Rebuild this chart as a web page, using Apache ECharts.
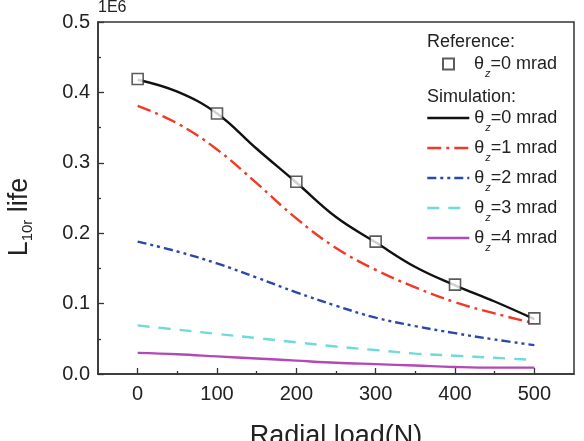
<!DOCTYPE html>
<html><head><meta charset="utf-8">
<script src="https://cdn.jsdelivr.net/npm/echarts@6/dist/echarts.min.js"></script>
<style>html,body{margin:0;padding:0;background:#fff}#c{width:584px;height:441px}</style>
</head><body><div id="c"></div>
<script>
const loads = [0,50,100,150,200,250,300,350,400,450,500];
const refLoads = [0,100,200,300,400,500];
const refLife = [0.419,0.370,0.273,0.188,0.127,0.079];
const sim0 = [0.418,0.401,0.370,0.320,0.272,0.223,0.187,0.152,0.126,0.103,0.078];
const sim1 = [0.381,0.356,0.319,0.271,0.221,0.179,0.148,0.123,0.102,0.086,0.072];
const sim2 = [0.188,0.174,0.157,0.137,0.116,0.097,0.080,0.068,0.058,0.049,0.041];
const sim3 = [0.069,0.063,0.057,0.051,0.045,0.039,0.034,0.029,0.026,0.023,0.020];
const sim4 = [0.030,0.028,0.025,0.022,0.019,0.016,0.014,0.012,0.010,0.009,0.009];
const xTicks = [0,100,200,300,400,500];
const xMinorTicks = [50,150,250,350,450];
const simAngles = ['0','1','2','3','4'];

const FONT = 'Liberation Sans, Arial, sans-serif';
const pair = (xs, ys) => xs.map((x,i)=>[x, ys[i]]);
const thetaLabel = a => '{t|θ}{z|z}{t|=' + a + ' mrad}';
const legendRich = {
  t: {fontSize: 18, fontFamily: FONT, color: '#222', lineHeight: 20, padding: [5,0,5,0]},
  z: {fontSize: 11, fontFamily: FONT, fontStyle: 'italic', color: '#222', lineHeight: 11, padding: [19,0,0,1]}
};
const simColors = ['#111111','#f03a24','#2a48a8','#6fdada','#b348b8'];
const simDash = ['solid',[14,5,3,5],[9,4,3,4,3,4],[12,9],'solid'];
const simData = [sim0, sim1, sim2, sim3, sim4];

const series = [];
for (let i = 4; i >= 0; i--) {
  series.push({
    name: 'sim' + simAngles[i], type: 'line', smooth: 0.4, symbol: 'none', showSymbol: false,
    data: pair(loads, simData[i]),
    lineStyle: {color: simColors[i], width: 2.4, type: simDash[i], cap: 'butt'},
    itemStyle: {color: simColors[i]}, z: 2 + (4 - i)
  });
}
series.push({
  name: 'ref0', type: 'scatter', symbol: 'rect', symbolSize: 11,
  data: pair(refLoads, refLife),
  itemStyle: {color: '#ffffff', borderColor: '#333', borderWidth: 1.6}, z: 10
});

const chart = echarts.init(document.getElementById('c'), null, {renderer: 'canvas'});
chart.setOption({
  animation: false,
  backgroundColor: '#fff',
  grid: {left: 98, right: 10, top: 22, bottom: 67, containLabel: false, outerBoundsMode: 'none',
    show: true, borderColor: '#333', borderWidth: 1.5, backgroundColor: 'transparent'},
  xAxis: [{
    type: 'value', min: -50, max: 550,
    name: 'Radial load(N)', nameLocation: 'middle', nameGap: 49,
    nameTextStyle: {fontSize: 27, fontFamily: FONT, color: '#222'},
    axisLine: {show: true, onZero: false, lineStyle: {color: '#333', width: 1.5}},
    axisTick: {show: true, inside: true, length: 6, customValues: xTicks, lineStyle: {color: '#333', width: 1.3}},
    axisLabel: {customValues: xTicks, fontSize: 20, fontFamily: FONT, color: '#222', margin: 10},
    splitLine: {show: false}
  }, {
    type: 'value', min: -50, max: 550, position: 'bottom',
    axisLine: {show: false, onZero: false},
    axisTick: {show: true, inside: true, length: 3, customValues: xMinorTicks, lineStyle: {color: '#333', width: 1.3}},
    axisLabel: {show: false},
    splitLine: {show: false}
  }],
  yAxis: {
    type: 'value', min: 0, max: 0.5, interval: 0.1,
    axisLine: {show: true, onZero: false, lineStyle: {color: '#333', width: 1.5}},
    axisTick: {show: true, inside: true, length: 6, lineStyle: {color: '#333', width: 1.3}},
    minorTick: {show: true, splitNumber: 2, length: 3, lineStyle: {color: '#333', width: 1.3}},
    axisLabel: {fontSize: 20, fontFamily: FONT, color: '#222', margin: 8, formatter: v => v.toFixed(1)},
    splitLine: {show: false}
  },
  legend: [{
    data: ['ref0'], orient: 'vertical', left: 442, top: 49, padding: 0,
    itemWidth: 11, itemHeight: 11, itemGap: 0,
    textStyle: {rich: legendRich, padding: [0,0,0,15]},
    formatter: n => thetaLabel(n.slice(3))
  }, {
    data: ['sim0','sim1','sim2','sim3','sim4'], orient: 'vertical', left: 426, top: 103, padding: 0,
    itemWidth: 42, itemHeight: 14, itemGap: 0,
    itemStyle: {opacity: 0},
    lineStyle: {width: 2.6},
    textStyle: {rich: legendRich},
    formatter: n => thetaLabel(n.slice(3))
  }],
  graphic: [
    {type: 'text', left: 98, top: 0, style: {text: '1E6', font: '16px ' + FONT, fill: '#222'}},
    {type: 'text', left: 427, top: 33, style: {text: 'Reference:', font: '18px ' + FONT, fill: '#222'}},
    {type: 'text', left: 427, top: 88, style: {text: 'Simulation:', font: '18px ' + FONT, fill: '#222'}},
    {type: 'text', x: 20, y: 217, rotation: Math.PI / 2,
      style: {text: '{L|L}{s|10r}{L| life}', align: 'center', verticalAlign: 'middle',
        rich: {
          L: {fontSize: 27, fontFamily: FONT, fill: '#222', lineHeight: 28},
          s: {fontSize: 15, fontFamily: FONT, fill: '#222', lineHeight: 15, padding: [15,0,0,0]}
        }}}
  ],
  series: series
});
</script></body></html>
